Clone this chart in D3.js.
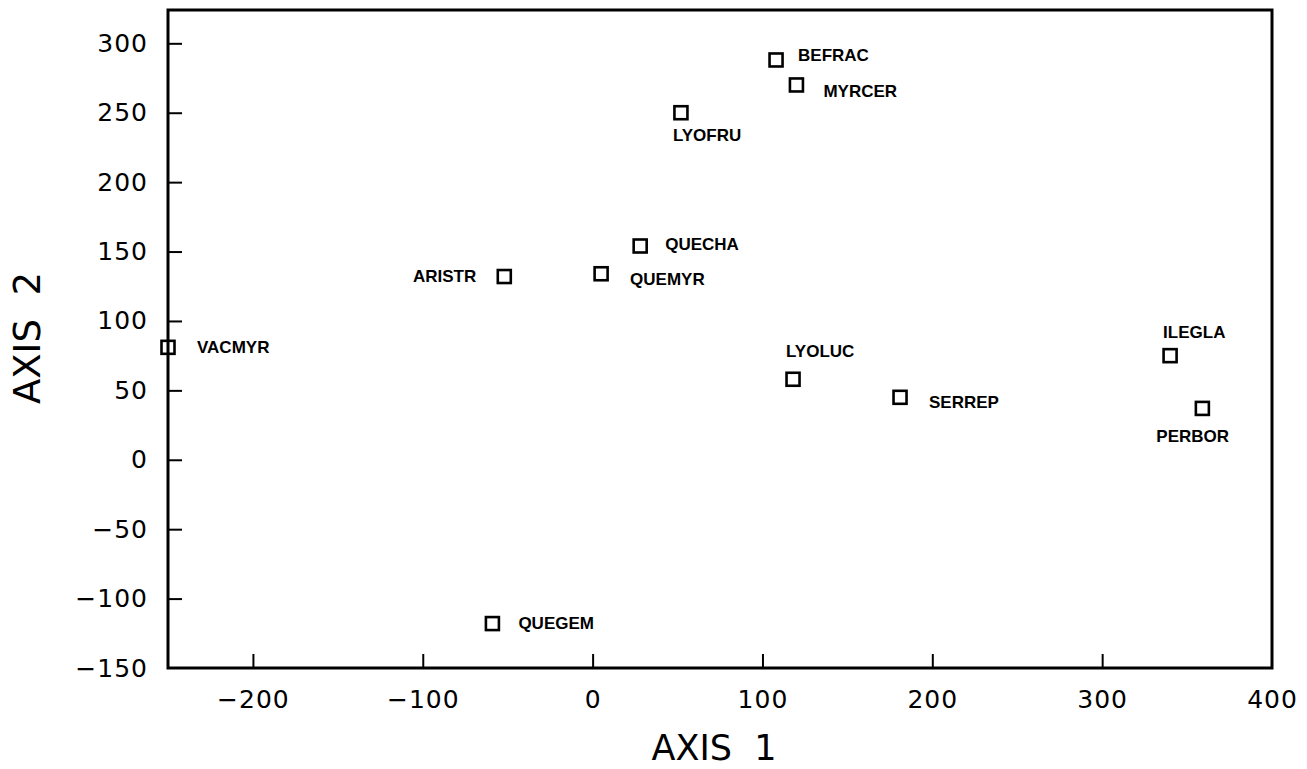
<!DOCTYPE html>
<html>
<head>
<meta charset="utf-8">
<script src="https://cdn.jsdelivr.net/npm/d3@7"></script>
<style>
  html, body { margin: 0; padding: 0; background: #fff; }
  svg { display: block; }
  text { fill: #000; }
</style>
</head>
<body>
<svg id="chart" width="1307" height="769"></svg>
<script>
// ---- data ----
const species = ["VACMYR", "ARISTR", "QUEMYR", "QUECHA", "BEFRAC", "MYRCER", "LYOFRU", "QUEGEM", "LYOLUC", "SERREP", "ILEGLA", "PERBOR"];
const axis1   = [-250, -52, 5, 28, 108, 120, 52, -59, 118, 181, 340, 359];
const axis2   = [81, 132, 134, 154, 288, 270, 250, -118, 58, 45, 75, 37];
const xTicks  = [-200, -100, 0, 100, 200, 300, 400];
const yTicks  = [-150, -100, -50, 0, 50, 100, 150, 200, 250, 300];
const xTitle  = "AXIS  1";
const yTitle  = "AXIS  2";

// ---- label placement (layout only) ----
const labelPlace = {
  VACMYR: { dx: 29, dy: 6, anchor: "start" },
  ARISTR: { dx: -28, dy: 5, anchor: "end" },
  QUEMYR: { dx: 29, dy: 11, anchor: "start" },
  QUECHA: { dx: 25, dy: 4, anchor: "start" },
  BEFRAC: { dx: 22, dy: 1, anchor: "start" },
  MYRCER: { dx: 27, dy: 12, anchor: "start" },
  LYOFRU: { dx: -8, dy: 28, anchor: "start" },
  QUEGEM: { dx: 26, dy: 5, anchor: "start" },
  LYOLUC: { dx: -7, dy: -22, anchor: "start" },
  SERREP: { dx: 29, dy: 11, anchor: "start" },
  ILEGLA: { dx: -7, dy: -18, anchor: "start" },
  PERBOR: { dx: -46, dy: 34, anchor: "start" }
};

const points = species.map((s, i) => ({ name: s, a1: axis1[i], a2: axis2[i] }));

const svg = d3.select("#chart");
const pLeft = 168, pRight = 1272, pTop = 10, pBottom = 668;

const x = d3.scaleLinear().domain([-250, 400]).range([pLeft, pRight]);
const y = d3.scaleLinear().domain([-150, 324]).range([pBottom, pTop]);

const tickFont = "'DejaVu Sans', Verdana, sans-serif";

// frame
svg.append("rect")
  .attr("x", pLeft).attr("y", pTop)
  .attr("width", pRight - pLeft).attr("height", pBottom - pTop)
  .attr("fill", "none").attr("stroke", "#000").attr("stroke-width", 3);

// x axis (ticks pointing inward)
const xAxis = d3.axisBottom(x).tickValues(xTicks).tickSizeInner(-14).tickSizeOuter(0).tickPadding(22)
  .tickFormat(d => d < 0 ? "\u2212" + Math.abs(d) : String(d));
const gx = svg.append("g").attr("transform", `translate(0,${pBottom})`).call(xAxis);
gx.select(".domain").remove();
gx.selectAll(".tick line").attr("stroke", "#000").attr("stroke-width", 2)
  .filter(d => d === 400).remove();
gx.selectAll(".tick text")
  .attr("font-family", tickFont).attr("font-size", 25).attr("fill", "#000")
  .attr("letter-spacing", 1);

// y axis
const yAxis = d3.axisLeft(y).tickValues(yTicks).tickSizeInner(-14).tickSizeOuter(0).tickPadding(20)
  .tickFormat(d => d < 0 ? "\u2212" + Math.abs(d) : String(d));
const gy = svg.append("g").attr("transform", `translate(${pLeft},0)`).call(yAxis);
gy.select(".domain").remove();
gy.selectAll(".tick line").attr("stroke", "#000").attr("stroke-width", 2)
  .filter(d => d === -150).remove();
gy.selectAll(".tick text")
  .attr("font-family", tickFont).attr("font-size", 25).attr("fill", "#000")
  .attr("letter-spacing", 1);

// axis titles
svg.append("text")
  .attr("x", 714).attr("y", 760)
  .attr("text-anchor", "middle")
  .attr("font-family", tickFont).attr("font-size", 35)
  .style("white-space", "pre")
  .text(xTitle);

svg.append("text")
  .attr("transform", `translate(40,338) rotate(-90)`)
  .attr("text-anchor", "middle")
  .attr("font-family", tickFont).attr("font-size", 37)
  .style("white-space", "pre")
  .text(yTitle);

// markers
const sq = 13;
svg.append("g").selectAll("rect")
  .data(points).join("rect")
  .attr("x", d => x(d.a1) - sq / 2)
  .attr("y", d => y(d.a2) - sq / 2)
  .attr("width", sq).attr("height", sq)
  .attr("fill", "none").attr("stroke", "#000").attr("stroke-width", 2.6);

// labels
svg.append("g").selectAll("text")
  .data(points).join("text")
  .attr("x", d => x(d.a1) + labelPlace[d.name].dx)
  .attr("y", d => y(d.a2) + labelPlace[d.name].dy)
  .attr("text-anchor", d => labelPlace[d.name].anchor)
  .attr("font-family", "'Liberation Sans', Arial, sans-serif")
  .attr("font-weight", "bold")
  .attr("font-size", 17)
  .text(d => d.name);
</script>
</body>
</html>
